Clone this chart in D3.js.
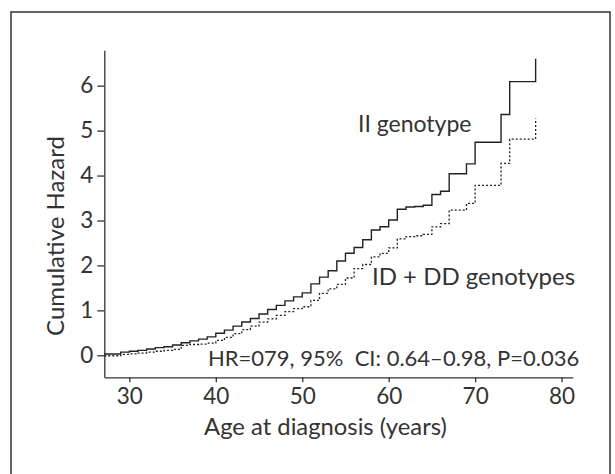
<!DOCTYPE html>
<html>
<head>
<meta charset="utf-8">
<script src="https://cdn.jsdelivr.net/npm/d3@7"></script>
<style>
    body { margin: 0; background: #fff; }
    text { font-family: Lato, "Open Sans", sans-serif; fill: #333; }
</style>
</head>
<body>
<svg id="chart" width="615" height="474"></svg>
<script>
// ages where the step curves change, and the cumulative hazard after each step
var iiAges = [27.1, 29, 30, 31, 32, 33, 34, 35, 36, 37, 38, 39, 40, 41, 42, 43, 44, 45, 46, 47, 48, 49, 50,
    51, 52, 53, 54, 55, 56, 57, 58, 59, 60, 61, 62, 63, 64, 65, 66, 67, 69, 70, 73, 74, 77];
var iiHazard = [0.03, 0.07, 0.09, 0.11, 0.14, 0.17, 0.19, 0.23, 0.28, 0.32, 0.36, 0.41, 0.49, 0.56, 0.65, 0.74,
    0.82, 0.92, 1.02, 1.11, 1.21, 1.30, 1.39, 1.59, 1.74, 1.88, 2.10, 2.27, 2.40, 2.57, 2.79, 2.86, 3.01, 3.25,
    3.30, 3.31, 3.34, 3.58, 3.65, 4.04, 4.26, 4.74, 5.36, 6.09, 6.60];

var iddAges = [27.1, 29, 30, 31, 32, 33, 34, 35, 36, 37, 38, 39, 40, 41, 42, 43, 44, 45, 46, 47, 48, 49, 50,
    51, 52, 53, 54, 55, 56, 57, 58, 59, 60, 61, 62, 63, 64, 65, 66, 67, 69, 70, 73, 74, 77];
var iddHazard = [-0.01, 0.02, 0.03, 0.05, 0.07, 0.09, 0.11, 0.13, 0.22, 0.24, 0.25, 0.27, 0.33, 0.40, 0.48, 0.57,
    0.65, 0.74, 0.81, 0.89, 0.97, 1.04, 1.08, 1.22, 1.38, 1.48, 1.58, 1.72, 1.93, 2.02, 2.19, 2.27, 2.39, 2.59,
    2.64, 2.66, 2.69, 2.86, 2.93, 3.23, 3.38, 3.78, 4.27, 4.81, 5.27];

var xTicks = [30, 40, 50, 60, 70, 80];
var yTicks = [0, 1, 2, 3, 4, 5, 6];

var svg = d3.select("#chart");

// outer frame (runs off the bottom of the picture)
svg.append("rect")
    .attr("x", 11)
    .attr("y", 12)
    .attr("width", 599)
    .attr("height", 480)
    .attr("fill", "none")
    .attr("stroke", "#333")
    .attr("stroke-width", 1.5);

var x = d3.scaleLinear().domain([27.1, 81.3]).range([104.3, 572.8]);
var y = d3.scaleLinear().domain([-0.49, 6.79]).range([377.3, 50.2]);

var xAxis = d3.axisBottom(x).tickValues(xTicks).tickSize(5).tickSizeOuter(0).tickPadding(6);
var yAxis = d3.axisLeft(y).tickValues(yTicks).tickSize(7).tickSizeOuter(0).tickPadding(4);

var gx = svg.append("g")
    .attr("transform", "translate(0," + y(-0.49) + ")")
    .call(xAxis);

var gy = svg.append("g")
    .attr("transform", "translate(" + x(27.1) + ",0)")
    .call(yAxis);

[gx, gy].forEach(function (g) {
    g.selectAll("path, line")
        .attr("stroke", "#333")
        .attr("stroke-width", 1.3);
    g.selectAll("text")
        .attr("font-family", "Lato, 'Open Sans', sans-serif")
        .attr("font-size", 22.5)
        .attr("fill", "#333");
});

// step curves
var line = d3.line()
    .curve(d3.curveStepAfter)
    .x(function (d) { return x(d[0]); })
    .y(function (d) { return y(d[1]); });

svg.append("path")
    .datum(d3.zip(iddAges, iddHazard))
    .attr("d", line)
    .attr("fill", "none")
    .attr("stroke", "#222")
    .attr("stroke-width", 1.3)
    .attr("stroke-dasharray", "2,2");

svg.append("path")
    .datum(d3.zip(iiAges, iiHazard))
    .attr("d", line)
    .attr("fill", "none")
    .attr("stroke", "#222")
    .attr("stroke-width", 1.4);

// labels
svg.append("text")
    .attr("x", 358)
    .attr("y", 131.5)
    .attr("font-size", 23)
    .text("II genotype");

svg.append("text")
    .attr("x", 372)
    .attr("y", 285)
    .attr("font-size", 24)
    .text("ID + DD genotypes");

svg.append("text")
    .attr("x", 208)
    .attr("y", 366)
    .attr("font-size", 22)
    .attr("xml:space", "preserve")
    .style("white-space", "pre")
    .text("HR=079, 95%  CI: 0.64\u20130.98, P=0.036");

svg.append("text")
    .attr("x", 325.5)
    .attr("y", 435)
    .attr("text-anchor", "middle")
    .attr("font-size", 23.8)
    .text("Age at diagnosis (years)");

svg.append("text")
    .attr("transform", "translate(64,236) rotate(-90)")
    .attr("text-anchor", "middle")
    .attr("font-size", 24)
    .text("Cumulative Hazard");
</script>
</body>
</html>
